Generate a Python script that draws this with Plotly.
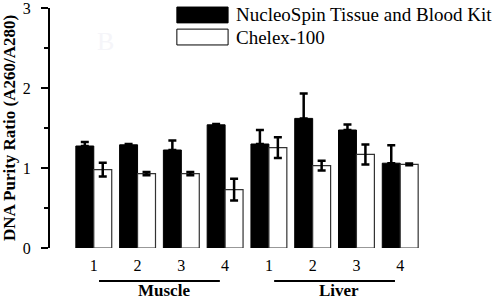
import plotly.graph_objects as go

tick_labels = ["1", "2", "3", "4", "1", "2", "3", "4"]
groups = ["Muscle", "Liver"]
kit_values = [1.275, 1.29, 1.225, 1.54, 1.30, 1.62, 1.475, 1.06]
kit_err = [0.05, 0.01, 0.12, 0.01, 0.175, 0.31, 0.07, 0.225]
chelex_values = [0.98, 0.93, 0.93, 0.73, 1.255, 1.03, 1.17, 1.045]
chelex_err = [0.085, 0.02, 0.02, 0.135, 0.13, 0.06, 0.125, 0.01]
series_names = ["NucleoSpin Tissue and Blood Kit", "Chelex-100"]

x = list(range(len(tick_labels)))
serif = "Liberation Serif, Times New Roman, serif"

fig = go.Figure()
fig.add_trace(go.Bar(
    x=x, y=kit_values, name=series_names[0],
    marker=dict(color="black", line=dict(color="black", width=1)),
    error_y=dict(type="data", array=kit_err, arrayminus=[0]*len(kit_err),
                 color="black", thickness=2.5, width=4),
    showlegend=False))
fig.add_trace(go.Bar(
    x=x, y=chelex_values, name=series_names[1],
    marker=dict(color="white", line=dict(color="#333333", width=1.2)),
    error_y=dict(type="data", array=chelex_err, color="black", thickness=2.5, width=4),
    showlegend=False))

# group underlines and labels
shapes = []
annotations = []
for gi, g in enumerate(groups):
    start = gi * 4
    shapes.append(dict(type="line", xref="x", yref="paper",
                       x0=start + 0.12, x1=start + 2.88, y0=-0.138, y1=-0.138,
                       line=dict(color="black", width=2)))
    annotations.append(dict(text=g, x=start + 1.6, y=-0.176, xref="x", yref="paper",
                            showarrow=False, yanchor="middle",
                            font=dict(family=serif, size=17, color="black", weight="bold")))

# manual legend
legend_y = [0.971, 0.879]
colors = ["black", "white"]
for i, name in enumerate(series_names):
    shapes.append(dict(type="rect", xref="paper", yref="paper",
                       x0=0.322, x1=0.452, y0=legend_y[i] - 0.033, y1=legend_y[i] + 0.033,
                       fillcolor=colors[i], line=dict(color="black", width=1)))
    annotations.append(dict(text=name, x=0.466, y=legend_y[i], xref="paper", yref="paper",
                            showarrow=False, xanchor="left", yanchor="middle",
                            font=dict(family=serif, size=19, color="black")))

annotations.append(dict(text="B", x=0.114, y=0.93, xref="paper", yref="paper",
                        showarrow=False, font=dict(family=serif, size=26, color="#f5f5f9")))

fig.update_layout(
    width=496, height=300,
    margin=dict(l=50, r=52, t=8, b=52, autoexpand=False),
    plot_bgcolor="white", paper_bgcolor="white",
    barmode="group", bargap=0.18, bargroupgap=0,
    shapes=shapes, annotations=annotations,
    font=dict(family=serif, color="black"),
    xaxis=dict(range=[-1, 8], tickmode="array", tickvals=x, ticktext=tick_labels,
               showline=False, showgrid=False, zeroline=False, ticks="", automargin=False,
               tickfont=dict(size=16, family=serif), ticklabelstandoff=6),
    yaxis=dict(range=[0, 3.0001], tickvals=[0, 1, 2, 3], showline=True, linecolor="black",
               linewidth=2, ticks="outside", ticklen=7, tickwidth=2, tickcolor="black",
               showgrid=False, zeroline=False, tickfont=dict(size=16, family=serif),
               ticklabelstandoff=7, automargin=False, ticklabeloverflow="allow",
               minor=dict(dtick=0.5, ticks="outside", ticklen=4, tickwidth=2, tickcolor="black"),
               title=dict(text="DNA Purity Ratio (A260/A280)", standoff=10,
                          font=dict(size=17, family=serif, weight="bold"))),
)

fig.write_html("out.html", config={"displayModeBar": False},
               post_script="document.body.style.margin='0';document.body.style.overflow='hidden';")
